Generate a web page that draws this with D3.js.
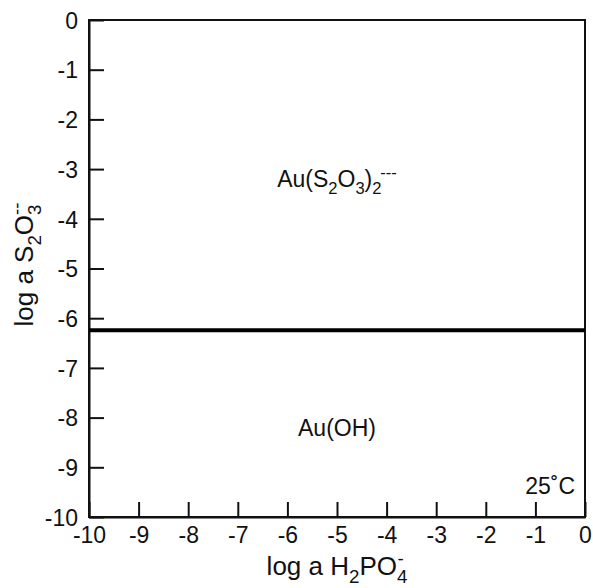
<!DOCTYPE html>
<html>
<head>
<meta charset="utf-8">
<script src="https://cdn.jsdelivr.net/npm/d3@7"></script>
<style>
  body { margin: 0; background: #fff; }
  svg text { font-family: "Liberation Sans", Arial, sans-serif; fill: #111; }
</style>
</head>
<body>
<div class="chart"></div>
<script>
// data
const xDomain = [-10, 0];
const yDomain = [-10, 0];
const xTicks = [-10, -9, -8, -7, -6, -5, -4, -3, -2, -1, 0];
const yTicks = [0, -1, -2, -3, -4, -5, -6, -7, -8, -9, -10];
const boundaryX = [-10, 0];
const boundaryY = [-6.24, -6.24];
const fields = [
  {x: -5.0, y: -3.36, parts: [["Au(S"], ["2", "sub"], ["O"], ["3", "sub"], [")"], ["2", "sub"], ["---", "sup"]]},
  {x: -5.0, y: -8.38, parts: [["Au(OH)"]]}
];

let margin = {top: 20, right: 8, bottom: 71, left: 89};
let width = 593 - margin.left - margin.right;
let height = 588 - margin.top - margin.bottom;

let svg = d3.select(".chart").append("svg")
            .attr("width", 593)
            .attr("height", 588);
let g = svg.append("g")
           .attr("transform", "translate(" + margin.left + "," + margin.top + ")");

let x = d3.scaleLinear().domain(xDomain).range([0, width]);
let y = d3.scaleLinear().domain(yDomain).range([height, 0]);

// frame
g.append("rect")
 .attr("width", width)
 .attr("height", height)
 .attr("fill", "none")
 .attr("stroke", "#111")
 .attr("stroke-width", 2);

let xAxis = g.append("g")
             .attr("transform", "translate(0," + height + ")")
             .call(d3.axisBottom(x).tickValues(xTicks).tickSizeInner(-15).tickSizeOuter(0).tickPadding(10).tickFormat(d3.format("d")));
let yAxis = g.append("g")
             .call(d3.axisLeft(y).tickValues(yTicks).tickSizeInner(-15).tickSizeOuter(0).tickPadding(11).tickFormat(d3.format("d")));

[xAxis, yAxis].forEach(a => {
  a.select(".domain").attr("stroke", "#111").attr("stroke-width", 2);
  a.selectAll(".tick line").attr("stroke", "#111").attr("stroke-width", 2);
  a.selectAll(".tick text")
   .style("font-size", "23px")
   .attr("fill", "#111")
   .text(d => d < 0 ? "-" + Math.abs(d) : d);
});
xAxis.selectAll(".tick text").attr("dy", "0.7em");
yAxis.selectAll(".tick text").attr("dy", "0.36em");

// boundary
let line = d3.line().x(d => x(d[0])).y(d => y(d[1]));
g.append("path")
 .datum(d3.zip(boundaryX, boundaryY))
 .attr("d", line)
 .attr("fill", "none")
 .attr("stroke", "#000")
 .attr("stroke-width", 4);

// text with sub/superscripts; a superscript after a subscript sits over it
function richText(sel, parts, size, back) {
  let prev = null;
  parts.forEach(p => {
    let t = sel.append("tspan").text(p[0]);
    if (p[1] === "sub") {
      t.style("font-size", (size * 0.72) + "px").attr("dy", prev === "sup" ? size * 0.7 : size * 0.3);
    } else if (p[1] === "sup") {
      t.style("font-size", (size * 0.72) + "px").attr("dy", prev === "sub" ? -size * 0.7 : -size * 0.4);
      if (prev === "sub") t.attr("dx", -size * back);
    } else {
      t.attr("dy", prev === "sub" ? -size * 0.3 : prev === "sup" ? size * 0.4 : 0);
    }
    prev = p[1] || null;
  });
}

fields.forEach(f => {
  let t = g.append("text")
           .attr("x", x(f.x))
           .attr("y", y(f.y))
           .attr("text-anchor", "middle")
           .style("font-size", "23px");
  richText(t, f.parts, 23, 0.05);
});

g.append("text")
 .attr("x", width - 10)
 .attr("y", height - 23)
 .attr("text-anchor", "end")
 .style("font-size", "23px")
 .text("25˚C");

// axis titles
let xt = svg.append("text")
            .attr("x", margin.left + width / 2)
            .attr("y", 575)
            .attr("text-anchor", "middle")
            .style("font-size", "26px");
richText(xt, [["log a H"], ["2", "sub"], ["PO"], ["4", "sub"], ["-", "sup"]], 26, 0.38);

let yt = svg.append("text")
            .attr("transform", "translate(33," + (margin.top + height / 2 - 4) + ")rotate(-90)")
            .attr("text-anchor", "middle")
            .style("font-size", "26px");
richText(yt, [["log a S"], ["2", "sub"], ["O"], ["3", "sub"], ["--", "sup"]], 26, 0.4);
</script>
</body>
</html>
